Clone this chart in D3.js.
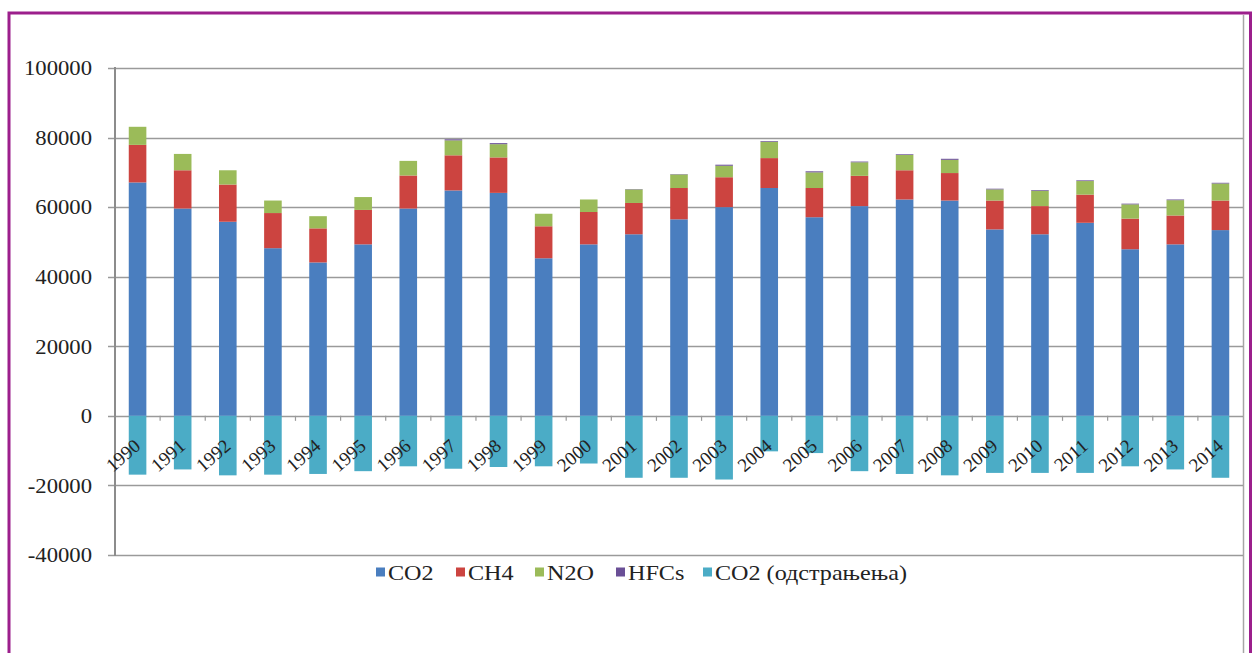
<!DOCTYPE html>
<html>
<head>
<meta charset="utf-8">
<script src="https://cdn.jsdelivr.net/npm/d3@7"></script>
<style>
  html, body { margin: 0; padding: 0; background: #ffffff; }
  svg { display: block; }
  text { font-family: "Liberation Serif", "Times New Roman", Times, serif; fill: #222222; }
</style>
</head>
<body>
<svg id="chart" width="1253" height="653"></svg>
<script>
// Greenhouse gas emissions and removals, 1990–2014
const years = ["1990","1991","1992","1993","1994","1995","1996","1997","1998","1999",
               "2000","2001","2002","2003","2004","2005","2006","2007","2008","2009",
               "2010","2011","2012","2013","2014"];
const co2 = [67100,59600,55800,48200,44100,49300,59600,64800,64100,45300,
             49300,52200,56500,60000,65500,57100,60300,62200,61900,53600,
             52200,55500,47900,49300,53400];
const ch4 = [10800,11000,10700,10100,9800,9900,9500,10100,10200,9200,
             9300,9000,9000,8600,8600,8400,8700,8400,7900,8300,
             8100,8100,8800,8300,8500];
const n2o = [5200,4700,4100,3600,3500,3700,4200,4300,3800,3600,
             3600,3900,3900,3300,4700,4500,3900,4400,3800,3200,
             4400,3900,4100,4400,4900];
const hfcs = [0,0,0,0,0,0,0,300,300,0,
              0,100,100,300,200,300,200,200,300,200,
              200,200,200,200,200];
const co2Removals = [-16900,-15400,-17100,-16900,-16700,-15900,-14500,-15200,-14700,-14500,
                     -13700,-17800,-17800,-18300,-10200,-10700,-15900,-16700,-17100,-16400,
                     -16400,-16400,-14500,-15400,-17800];
const yTicks = [100000, 80000, 60000, 40000, 20000, 0, -20000, -40000];

const seriesKeys = ["CO2", "CH4", "N2O", "HFCs", "CO2 (одстрањења)"];
const seriesColors = ["#4a7ebf", "#cc4440", "#9bbb59", "#6a4f96", "#4bacc6"];

const rows = years.map((y, i) => ({
  year: y,
  "CO2": co2[i],
  "CH4": ch4[i],
  "N2O": n2o[i],
  "HFCs": hfcs[i],
  "CO2 (одстрањења)": co2Removals[i]
}));

const svg = d3.select("#chart");
const plot = { left: 115, right: 1243, top: 68, bottom: 555 };

const x = d3.scaleBand()
  .domain(years)
  .range([plot.left, plot.right])
  .paddingInner(0.61)
  .paddingOuter(0.305);

const y = d3.scaleLinear()
  .domain([-40000, 100000])
  .range([plot.bottom, plot.top]);

const color = d3.scaleOrdinal().domain(seriesKeys).range(seriesColors);

// outer frame
svg.append("path")
  .attr("d", `M9,653 V13 H1250.5 V653`)
  .attr("fill", "none")
  .attr("stroke", "#9c1f8c")
  .attr("stroke-width", 3);

// chart area right edge
svg.append("line")
  .attr("x1", 1243.5).attr("x2", 1243.5)
  .attr("y1", 15).attr("y2", 653)
  .attr("stroke", "#a6a6a6").attr("stroke-width", 1.5);

// horizontal gridlines
svg.append("g")
  .selectAll("line")
  .data(yTicks)
  .join("line")
  .attr("x1", plot.left - 7)
  .attr("x2", plot.right)
  .attr("y1", d => Math.round(y(d)) + 0.5)
  .attr("y2", d => Math.round(y(d)) + 0.5)
  .attr("stroke", "#9a9a9a")
  .attr("stroke-width", 1.6);

// stacked bars, negative removals below zero
const stacked = d3.stack()
  .keys(seriesKeys)
  .offset(d3.stackOffsetDiverging)(rows);

svg.append("g")
  .selectAll("g")
  .data(stacked)
  .join("g")
  .attr("fill", d => color(d.key))
  .selectAll("rect")
  .data(d => d)
  .join("rect")
  .attr("x", d => x(d.data.year))
  .attr("width", x.bandwidth())
  .attr("y", d => y(Math.max(d[0], d[1])))
  .attr("height", d => Math.abs(y(d[0]) - y(d[1])));

// category ticks on the zero line
const boundaries = years.slice(1).map(yr => x(yr) - x.step() * x.paddingInner() / 2);
svg.append("g")
  .selectAll("line")
  .data(boundaries)
  .join("line")
  .attr("x1", d => d).attr("x2", d => d)
  .attr("y1", y(0)).attr("y2", y(0) + 5)
  .attr("stroke", "#9a9a9a").attr("stroke-width", 1.2);

// value axis line
svg.append("line")
  .attr("x1", plot.left).attr("x2", plot.left)
  .attr("y1", plot.top - 1).attr("y2", plot.bottom + 1)
  .attr("stroke", "#8c8c8c").attr("stroke-width", 2);

// value axis labels
svg.append("g")
  .selectAll("text")
  .data(yTicks)
  .join("text")
  .attr("transform", d => `translate(92,${y(d)}) scale(1.08,1)`)
  .attr("text-anchor", "end")
  .attr("dy", "0.35em")
  .attr("font-family", "Liberation Serif")
  .style("font-size", "21px")
  .text(d => d);

// rotated year labels
svg.append("g")
  .selectAll("text")
  .data(years)
  .join("text")
  .attr("transform", d => `translate(${x(d) + x.bandwidth() / 2 + 4},${y(0) + 32}) rotate(-41)`)
  .attr("text-anchor", "end")
  .attr("font-family", "Liberation Serif")
  .style("font-size", "19px")
  .text(d => d);

// legend
const legendItems = [
  { key: "CO2", x: 376 },
  { key: "CH4", x: 456 },
  { key: "N2O", x: 535 },
  { key: "HFCs", x: 616 },
  { key: "CO2 (одстрањења)", x: 703 }
];
const legend = svg.append("g")
  .selectAll("g")
  .data(legendItems)
  .join("g")
  .attr("transform", d => `translate(${d.x},572)`);
legend.append("rect")
  .attr("x", 0).attr("y", -4.5)
  .attr("width", 9).attr("height", 9)
  .attr("fill", d => color(d.key));
legend.append("text")
  .attr("transform", "translate(12,8) scale(1.15,1)")
  .attr("font-family", "Liberation Serif")
  .style("font-size", "21px")
  .text(d => d.key);
</script>
</body>
</html>
